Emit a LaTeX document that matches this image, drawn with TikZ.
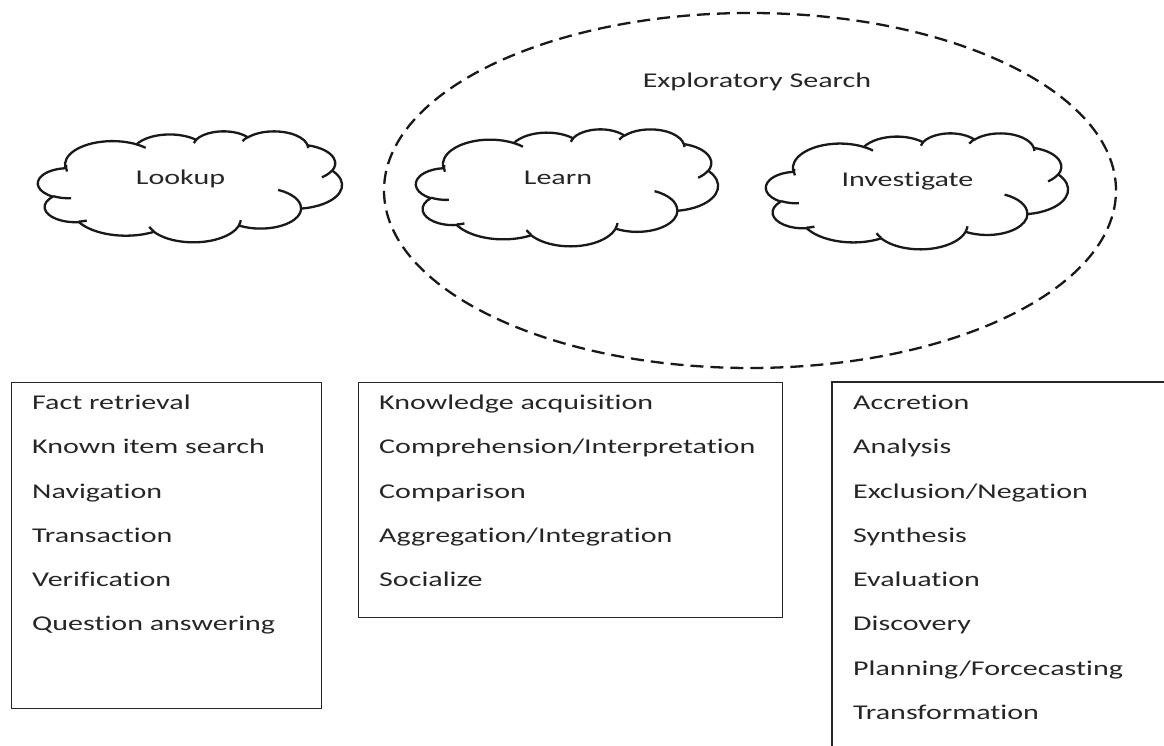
\documentclass[tikz,border=0pt]{standalone}
\usepackage{fontspec}
\setmainfont{Carlito}[FakeStretch=1.43, Ligatures={NoCommon}]
% arc of an Office-style cloud: radii #1,#2, visual start angle #3, sweep #4
\newcommand\carc[4]{arc[start angle={atan2(#1*sin(#3),#2*cos(#3))}, delta angle={mod(atan2(#1*sin((#3)+(#4)),#2*cos((#3)+(#4)))-atan2(#1*sin(#3),#2*cos(#3))+720,360)}, x radius=#1, y radius=#2]}
\newcommand\cloudpaths{%
  \draw[cloudline] (390,1437)
    \carc{675.3}{919}{-190.48748}{123.78053}
    \carc{533.3}{726.7}{-144.10238}{89.94523}
    \carc{436.5}{594.5}{-145.80792}{99.72302}
    \carc{485.7}{659.5}{-130.98607}{117.24173}
    \carc{533.3}{727.3}{-78.70888}{109.02692}
    \carc{677.5}{922}{-46.26725}{130.269}
    \carc{578.5}{786.7}{0.62502}{114.03333}
    \carc{675.2}{921.5}{22.4516}{115.17255}
    \carc{772}{1054.3}{66.24263}{75.71102}
    \carc{436}{591.8}{-274.94208}{146.73557}
    \carc{434.5}{594.5}{-246.8285}{152.51885} -- cycle;
  \draw[cloudline]
    (469.3,2617.7) \carc{434.5}{594.5}{86.742}{26.4295}
    (692.8,3489.9) \carc{436}{591.8}{73.61047}{11.44747}
    (1647.8,3909) \carc{675.2}{921.5}{137.62415}{14.0811}
    (2882.7,3475.1) \carc{675.2}{921.5}{6.45327}{15.99835}
    (3412.9,2295.4) \carc{578.5}{786.7}{-70.29235}{70.91737}
    (4179.8,1535.4) \carc{533.3}{727.3}{30.31803}{27.7515}
    (3832.4,542.6) \carc{485.7}{659.5}{-13.74433}{14.8589}
    (2907.8,395.2) \carc{485.7}{659.5}{-149.18145}{18.19537}
    (2214.1,472) \carc{436.5}{594.5}{-163.49427}{17.68635}
    (1400,519.2) \carc{675.3}{919}{-66.70695}{12.31935}
    (412.7,1578.9) \carc{675.3}{919}{165.29928}{20.8672};
}
\tikzset{
  cloudline/.style={line width=2.3pt, black!90, line join=round},
  boxline/.style={draw=black!85, line width=1.2pt},
  txt/.style={font=\fontsize{21}{25}\selectfont, text=black!85, inner sep=0pt},
  item/.style={txt, anchor=base west},
  label/.style={txt, anchor=base},
}
\begin{document}
\begin{tikzpicture}[x=1pt,y=1pt]
\useasboundingbox (0,0) rectangle (1164,746);
% dashed ellipse: exploratory search
\draw[black!90, line width=2.3pt, dash pattern=on 13pt off 7pt] (750,555.5) ellipse [x radius=366, y radius=177.5];
\node[label] (expl) at (757,658.7) {Exploratory Search};
% clouds
\begin{scope}[shift={(38,615)}, xscale=304/4320, yscale=-111/4320]
  \cloudpaths
\end{scope}
\begin{scope}[shift={(416,617)}, xscale=302/4320, yscale=-117/4320]
  \cloudpaths
\end{scope}
\begin{scope}[shift={(766,613)}, xscale=302/4320, yscale=-116/4320]
  \cloudpaths
\end{scope}
\node[label] (lookup) at (180.5,561) {Lookup};
\node[label] (learn) at (558,561.7) {Learn};
\node[label] (invest) at (907.5,559.3) {Investigate};
% boxes
\node[boxline, anchor=north west, minimum width=310pt, minimum height=326pt, inner sep=0pt] (lbox) at (11,364) {};
\node[boxline, anchor=north west, minimum width=424pt, minimum height=235pt, inner sep=0pt] (mbox) at (358,364) {};
\coordinate (rtr) at (1164,364);
\coordinate (rtl) at (832,364);
\coordinate (rbl) at (832,0);
\draw[boxline] (rtr) -- (rtl) -- (rbl);
\foreach \t [count=\i from 0] in {Fact retrieval, Known item search, Navigation, Transaction, Verification, Question answering}
  \node[item] (l\i) at (32,336.5-44.3*\i) {\t};
\foreach \t [count=\i from 0] in {Knowledge acquisition, Comprehension/Interpretation, Comparison, Aggregation/Integration, Socialize}
  \node[item] (m\i) at (379,336.5-44.3*\i) {\t};
\foreach \t [count=\i from 0] in {Accretion, Analysis, Exclusion/Negation, Synthesis, Evaluation, Discovery, Planning/Forcecasting, Transformation}
  \node[item] (r\i) at (853,336.5-44.3*\i) {\t};
\end{tikzpicture}
\end{document}
